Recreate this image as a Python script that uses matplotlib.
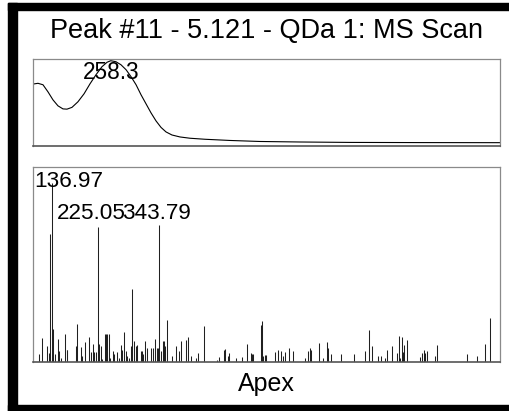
import matplotlib
matplotlib.use("Agg")
import matplotlib.pyplot as plt
from matplotlib.patches import Rectangle

plt.rcParams['font.family'] = ['Liberation Sans', 'DejaVu Sans']

title = "Peak #11 - 5.121 - QDa 1: MS Scan"
footer = "Apex"

# UV spectrum (nm, relative absorbance)
uv_wl = [210, 213.1, 216.2, 219.3, 222.4, 225.5, 228.6, 231.1, 234.2, 237.9,
         241.7, 245.4, 249.1, 252.8, 256.0, 258.3, 261.5, 264.6, 267.8, 270.9,
         274.0, 277.1, 280.2, 283.3, 286.4, 289.5, 292.6, 296.3, 301.3, 307.5,
         316.8, 332.3, 351.0, 375.8, 406.9, 450.3, 500]
uv_abs = [0.726, 0.735, 0.718, 0.635, 0.541, 0.471, 0.435, 0.432, 0.453, 0.518,
          0.612, 0.729, 0.835, 0.929, 0.982, 1.0, 0.988, 0.953, 0.894, 0.812,
          0.718, 0.600, 0.494, 0.388, 0.294, 0.218, 0.165, 0.129, 0.106, 0.091,
          0.079, 0.065, 0.053, 0.047, 0.042, 0.040, 0.039]
uv_peak = 258.3

# MS scan (m/z, relative intensity %)
ms_mz = [112.1, 117.9, 126.4, 130.3, 132.8, 136.97, 139.1, 142.4, 147.6, 150.7,
         153.4, 161.7, 164.9, 166.1, 182.3, 184.2, 191.9, 193.8, 200.2, 207.9,
         211.8, 215.6, 217.6, 221.4, 225.05, 227.8, 230.5, 233.5, 238.2, 240.7,
         242.0, 243.2, 245.9, 248.4, 254.7, 256.7, 262.5, 265.7, 269.0, 272.1,
         275.4, 279.2, 281.7, 285.6, 288.9, 291.4, 294.6, 297.9, 301.0, 307.5,
         310.0, 312.6, 315.8, 320.3, 327.4, 330.7, 335.1, 338.4, 340.9, 343.79,
         347.2, 349.9, 352.4, 355.0, 357.6, 367.3, 376.1, 381.9, 385.8, 394.3,
         399.3, 404.5, 413.5, 418.0, 429.5, 454.0, 457.9, 468.7, 470.6, 476.4,
         478.3, 491.8, 502.2, 512.4, 519.5, 522.6, 524.5, 538.8, 540.7, 542.7,
         546.5, 549.6, 565.8, 572.1, 577.3, 581.8, 585.0, 593.9, 601.6, 624.7,
         630.5, 634.4, 636.3, 651.7, 658.9, 666.6, 668.5, 674.9, 694.1, 718.6,
         740.4, 747.5, 753.3, 764.3, 771.2, 778.9, 782.8, 791.8, 800.9, 804.7,
         807.8, 810.5, 812.4, 815.0, 820.2, 846.4, 849.7, 853.5, 856.0, 858.7,
         874.1, 878.6, 935.8, 955.1, 971.1, 981.3]
ms_int = [4.6, 13.2, 9.1, 5.0, 71.5, 100, 18.4, 4.6, 12.9, 6.1,
          2.2, 15.6, 6.9, 6.5, 8.8, 21.1, 8.2, 3.5, 11.3, 14.1,
          5.4, 10.1, 5.4, 5.4, 75.4, 10.1, 8.8, 1.8, 15.8, 15.8,
          5.4, 15.8, 15.5, 2.2, 6.3, 4.6, 5.4, 2.4, 9.3, 6.9,
          16.8, 6.0, 3.5, 2.2, 8.8, 41.0, 11.6, 9.1, 9.5, 6.3,
          6.3, 4.6, 11.9, 7.7, 7.8, 8.0, 13.0, 7.8, 7.8, 76.5,
          6.3, 11.9, 11.9, 8.8, 23.3, 3.5, 8.8, 6.0, 11.9, 12.5,
          14.0, 3.5, 2.2, 5.0, 20.3, 0.9, 2.8, 6.9, 7.3, 3.5,
          5.0, 2.2, 2.8, 10.1, 5.0, 4.6, 4.6, 20.8, 22.7, 3.5,
          3.9, 3.9, 5.4, 6.7, 6.0, 3.5, 5.6, 8.0, 6.0, 2.2,
          6.3, 7.8, 6.5, 10.6, 2.4, 11.3, 7.8, 4.6, 4.6, 4.6,
          6.3, 17.7, 8.8, 3.2, 3.5, 2.2, 6.5, 9.1, 5.0, 14.7,
          2.2, 14.0, 5.4, 9.7, 12.1, 2.8, 5.0, 6.5, 5.0, 6.0,
          3.2, 9.5, 4.6, 3.5, 10.1, 24.6]
ms_labels = ["136.97", "225.05", "343.79"]

W, H = 510, 411
fig = plt.figure(figsize=(W / 100, H / 100), dpi=100)

def fx(px):
    return px / W

def fy(py):
    return 1 - py / H

# thick black frame (open on the right)
for rect in [(8, 3, 9, 408), (8, 3, 502, 7), (8, 405, 502, 6)]:
    x, y, w, h = rect
    fig.patches.append(Rectangle((fx(x), fy(y + h)), w / W, h / H,
                                 transform=fig.transFigure, color='black', zorder=0))

def style_axes(ax):
    ax.set_xticks([])
    ax.set_yticks([])
    for s in ['left', 'top', 'right']:
        ax.spines[s].set_color('#8a8a8a')
        ax.spines[s].set_linewidth(0.9)
    ax.spines['bottom'].set_color('#555555')
    ax.spines['bottom'].set_linewidth(1.2)

# UV panel
ax1 = fig.add_axes([fx(33), fy(146), (500 - 33) / W, (146 - 59) / H])
ax1.plot(uv_wl, uv_abs, color='black', lw=0.8)
ax1.set_xlim(210, 500)
ax1.set_ylim(0, 1.02)
style_axes(ax1)
ax1.text(uv_peak, 1.0, f"{uv_peak:.1f}", ha='center', va='top', fontsize=16.3)

# MS panel
ax2 = fig.add_axes([fx(33), fy(362), (500 - 33) / W, (362 - 167) / H])
ax2.vlines(ms_mz, 0, ms_int, color='#202020', lw=0.75)
ax2.set_xlim(100, 1000)
ax2.set_ylim(0, 109)
style_axes(ax2)

label_pos = {"136.97": (101.5, 97.8), "225.05": (145.7, 79.8), "343.79": (271.5, 79.8)}
for lab in ms_labels:
    x, y = label_pos[lab]
    ax2.text(x, y, lab, ha='left', va='baseline', fontsize=16.2)

fig.text(fx(266.5), fy(38), title, ha='center', va='baseline', fontsize=19.5)
fig.text(fx(266.5), fy(391), footer, ha='center', va='baseline', fontsize=18)

fig.savefig("out.png", dpi=100)
